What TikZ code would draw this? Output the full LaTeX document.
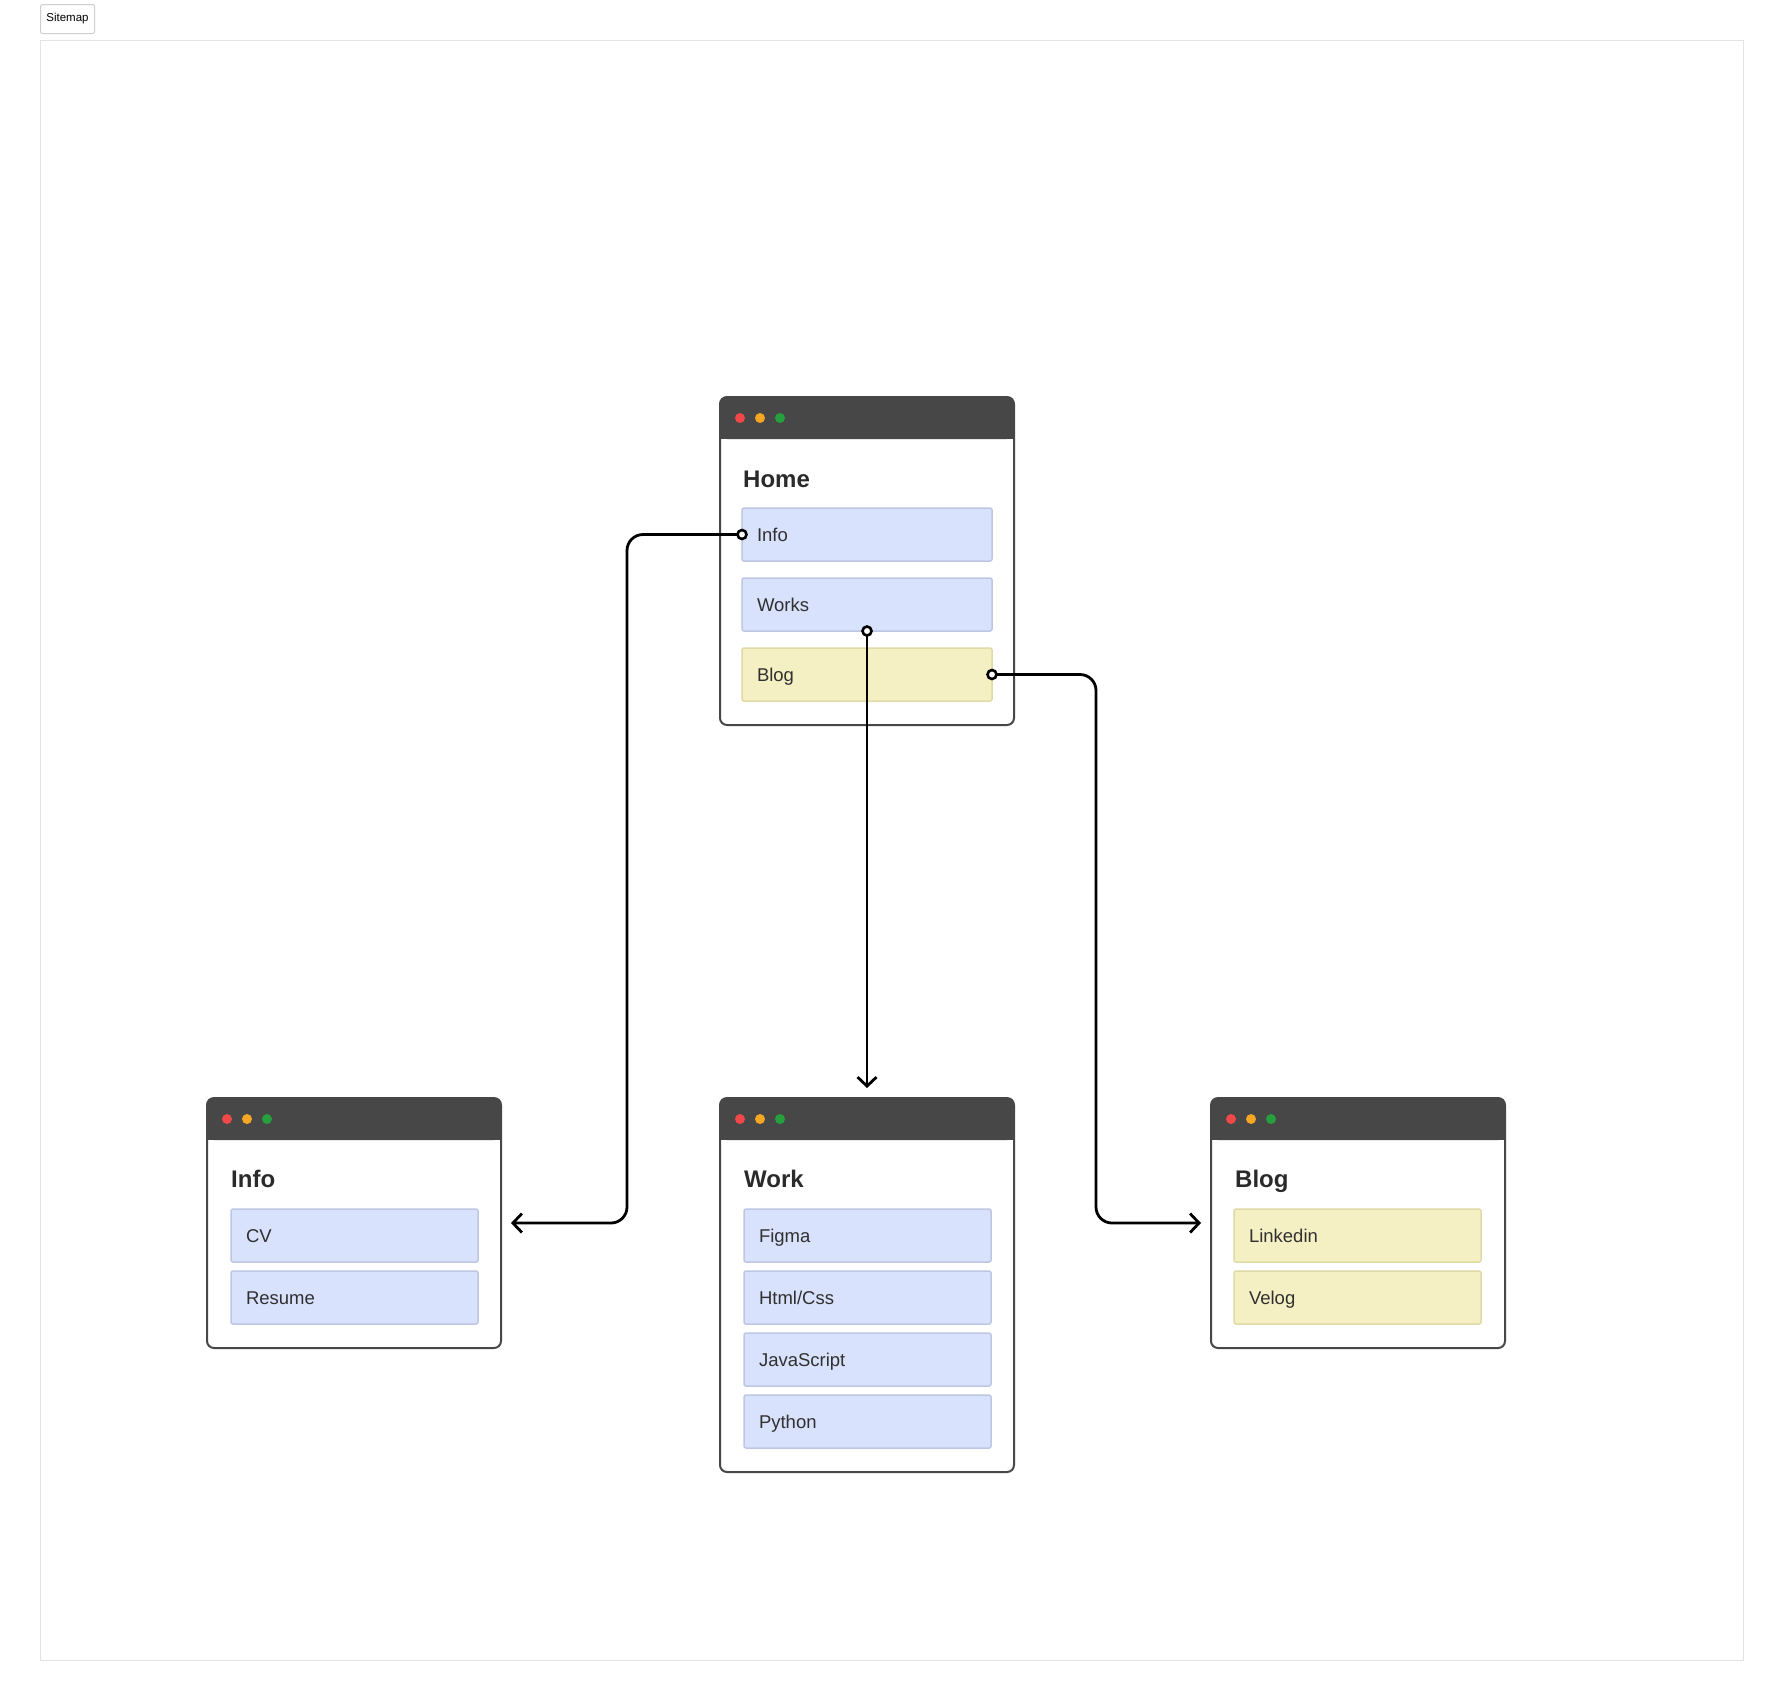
\documentclass[tikz,border=0pt]{standalone}
\usepackage{fontspec}
\setmainfont{Liberation Sans}
\usetikzlibrary{positioning,arrows.meta}
\definecolor{winedge}{HTML}{474747}
\definecolor{txtgray}{HTML}{303030}
\definecolor{ttlgray}{HTML}{2A2A2A}
\definecolor{bluefill}{HTML}{D9E2FC}
\definecolor{bluedge}{HTML}{BDC7E3}
\definecolor{yelfill}{HTML}{F5F0C4}
\definecolor{yeledge}{HTML}{E0DAA6}
\definecolor{dotred}{HTML}{F04848}
\definecolor{dotorange}{HTML}{F5A623}
\definecolor{dotgreen}{HTML}{25A03C}
\definecolor{framegray}{HTML}{E3E3E3}
\definecolor{btnedge}{HTML}{CFCFCF}

\begin{document}
\begin{tikzpicture}[x=1pt, y=-1pt,
	every node/.style={font=\fontsize{18.5}{22}\selectfont, text=txtgray},
	win/.style={draw=winedge, line width=2pt, fill=white, rounded corners=7pt, minimum width=294pt, inner sep=0pt, outer sep=0pt, anchor=north west},
	ttl/.style={anchor=base west, font=\fontsize{24}{28}\selectfont\bfseries, text=ttlgray, inner sep=0pt},
	item/.style={rectangle, rounded corners=2pt, line width=1.5pt, minimum height=53pt, text height=13pt, text depth=0pt, inner xsep=15pt, inner ysep=0pt, outer sep=0pt, align=left},
	itemb/.style={item, draw=bluedge, fill=bluefill},
	itemy/.style={item, draw=yeledge, fill=yelfill},
	wide/.style={text width=220pt},
	narrow/.style={text width=217pt},
	link/.style={line width=2.8pt, rounded corners=16pt},
	arrowed/.style={-{Straight Barb[length=9pt,width=19pt]}},
	port/.style={circle, draw, fill=white, line width=2.6pt, minimum size=9pt, inner sep=0pt}]

	\useasboundingbox (0,0) rectangle (1784,1701);
	% canvas
	\draw[framegray, line width=1pt] (40,40) rectangle (1743,1660);
	\node[draw=btnedge, rounded corners=2pt, line width=1pt, fill=white, anchor=north west, minimum width=54pt, minimum height=29pt, inner sep=0pt, font=\fontsize{11.5}{13}\selectfont, text=black] (sitemap) at (40,4) {Sitemap};

	% windows
	\node[win, minimum height=328pt] (homewin) at (720,397) {};
	\node[win, minimum height=250pt] (infowin) at (207,1098) {};
	\node[win, minimum height=374pt] (workwin) at (720,1098) {};
	\node[win, minimum height=250pt] (blogwin) at (1211,1098) {};
	\foreach \w in {homewin,infowin,workwin,blogwin}{
		\fill[winedge, rounded corners=7pt] (\w.north west) rectangle ([yshift=-42pt]\w.north east);
		\fill[winedge] ([yshift=-20pt]\w.north west) rectangle ([yshift=-42pt]\w.north east);
		\fill[dotred] ([xshift=20pt,yshift=-21pt]\w.north west) circle (5pt);
		\fill[dotorange] ([xshift=40pt,yshift=-21pt]\w.north west) circle (5pt);
		\fill[dotgreen] ([xshift=60pt,yshift=-21pt]\w.north west) circle (5pt);
	}

	% home
	\node[ttl] (hometitle) at ([xshift=23pt,yshift=-90pt]homewin.north west) {Home};
	\node[itemb, wide, anchor=north west] (hinfo) at ([xshift=22pt,yshift=-111pt]homewin.north west) {Info};
	\node[itemb, wide, below=17pt of hinfo] (hworks) {Works};
	\node[itemy, wide, below=17pt of hworks] (hblog) {Blog};

	% info
	\node[ttl] (infotitle) at ([xshift=24pt,yshift=-89pt]infowin.north west) {Info};
	\node[itemb, narrow, anchor=north west] (cv) at ([xshift=24pt,yshift=-111pt]infowin.north west) {CV};
	\node[itemb, narrow, below=9pt of cv] (resume) {Resume};

	% work
	\node[ttl] (worktitle) at ([xshift=24pt,yshift=-89pt]workwin.north west) {Work};
	\node[itemb, narrow, anchor=north west] (figma) at ([xshift=24pt,yshift=-111pt]workwin.north west) {Figma};
	\node[itemb, narrow, below=9pt of figma] (htmlcss) {Html/Css};
	\node[itemb, narrow, below=9pt of htmlcss] (js) {JavaScript};
	\node[itemb, narrow, below=9pt of js] (python) {Python};

	% blog
	\node[ttl] (blogtitle) at ([xshift=24pt,yshift=-89pt]blogwin.north west) {Blog};
	\node[itemy, narrow, anchor=north west] (linkedin) at ([xshift=23pt,yshift=-111pt]blogwin.north west) {Linkedin};
	\node[itemy, narrow, below=9pt of linkedin] (velog) {Velog};

	% links
	\draw[link, arrowed] (hinfo.west) -- ++(-115pt,0pt) |- ([xshift=10pt]infowin.east);
	\draw[link, arrowed] (hworks.south) -- ([yshift=10pt]workwin.north);
	\draw[link, arrowed] (hblog.east) -- ++(104pt,0pt) |- ([xshift=-10pt]blogwin.west);
	\node[port] (pinfo) at (hinfo.west) {};
	\node[port] (pworks) at (hworks.south) {};
	\node[port] (pblog) at (hblog.east) {};
\end{tikzpicture}
\end{document}
